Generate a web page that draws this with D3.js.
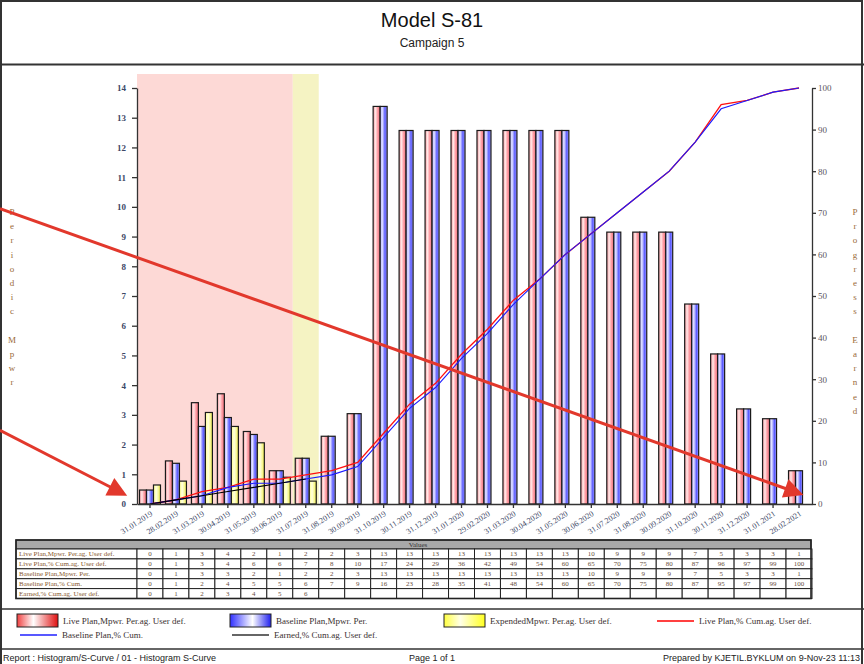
<!DOCTYPE html>
<html>
<head>
<meta charset="utf-8">
<script src="https://cdn.jsdelivr.net/npm/d3@7"></script>
<style>
  body { margin: 0; background: #fff; }
  svg { display: block; }
</style>
</head>
<body>
<div id="chart"></div>
<script>
const months = ["31.01.2019", "28.02.2019", "31.03.2019", "30.04.2019", "31.05.2019", "30.06.2019",
  "31.07.2019", "31.08.2019", "30.09.2019", "31.10.2019", "30.11.2019", "31.12.2019",
  "31.01.2020", "29.02.2020", "31.03.2020", "30.04.2020", "31.05.2020", "30.06.2020",
  "31.07.2020", "31.08.2020", "30.09.2020", "31.10.2020", "30.11.2020", "31.12.2020",
  "31.01.2021", "28.02.2021"];
const livePlanPer = [0.47, 1.45, 3.41, 3.71, 2.44, 1.12, 1.54, 2.28, 3.04, 13.38, 12.57, 12.57, 12.57,
  12.57, 12.57, 12.57, 12.57, 9.65, 9.15, 9.15, 9.15, 6.73, 5.05, 3.2, 2.87, 1.12];
const baselinePer = [0.47, 1.37, 2.61, 2.91, 2.34, 1.12, 1.54, 2.28, 3.04, 13.38, 12.57, 12.57, 12.57,
  12.57, 12.57, 12.57, 12.57, 9.65, 9.15, 9.15, 9.15, 6.73, 5.05, 3.2, 2.87, 1.12];
const expendedPer = [0.64, 0.77, 3.08, 2.61, 2.06, 0.9, 0.77];
const livePlanCum = [0, 1, 3, 4, 6, 6, 7, 8, 10, 17, 24, 29, 36, 42, 49, 54, 60, 65, 70, 75, 80, 87, 96, 97, 99, 100];
const baselineCum = [0, 1, 2, 4, 5, 5, 6, 7, 9, 16, 23, 28, 35, 41, 48, 54, 60, 65, 70, 75, 80, 87, 95, 97, 99, 100];
const earnedCum = [0, 1, 2, 3, 4, 5, 6];
const leftTicks = d3.range(0, 15, 1);
const rightTicks = d3.range(0, 101, 10);
// shaded periods (month index ranges)
const pastPeriod = [0, 5];
const currentPeriod = [6, 6];
// red call-out arrows: [left-axis value at page edge] -> [month index, x offset, left-axis value]
const callouts = [
  { fromValue: 9.94, toIndex: 25, toOffset: -1, toValue: 0.37 },
  { fromValue: 2.48, toIndex: 0, toOffset: -28, toValue: 0.37 }
];

const W = 864, H = 664;
const plot = { left: 137, right: 812, top: 88, bottom: 504 };

const svg = d3.select('#chart').append('svg')
  .attr('width', W).attr('height', H)
  .style('font-family', '"Liberation Serif", "DejaVu Serif", serif');

// gradients for bars and legend swatches
const defs = svg.append('defs');
function addGradient(id, stops) {
  const g = defs.append('linearGradient').attr('id', id)
    .attr('x1', '0%').attr('x2', '100%').attr('y1', '0%').attr('y2', '0%');
  stops.forEach(s => g.append('stop').attr('offset', s[0]).attr('stop-color', s[1]));
}
addGradient('gLive', [['0%', '#f59aa0'], ['35%', '#ffe6e6'], ['65%', '#ff9da4'], ['100%', '#e8707a']]);
addGradient('gBase', [['0%', '#a9a9ff'], ['30%', '#e4e4ff'], ['70%', '#5a5aff'], ['100%', '#a8a8ff']]);
addGradient('gExp', [['0%', '#ffff88'], ['40%', '#ffffe0'], ['100%', '#f2f050']]);
addGradient('gLiveLeg', [['0%', '#f04040'], ['40%', '#ffffff'], ['100%', '#e01010']]);
addGradient('gBaseLeg', [['0%', '#3030ff'], ['55%', '#ffffff'], ['100%', '#2020ee']]);
addGradient('gExpLeg', [['0%', '#ffff40'], ['40%', '#ffffe8'], ['100%', '#ffff20']]);

defs.append('marker').attr('id', 'arrowHead')
  .attr('viewBox', '0 0 10 10').attr('refX', 7).attr('refY', 5)
  .attr('markerWidth', 7).attr('markerHeight', 6.5).attr('orient', 'auto')
  .append('path').attr('d', 'M0,0 L10,5 L0,10 z').attr('fill', '#e2382c');

// page frame
const frame = svg.append('g').attr('stroke', '#333').attr('fill', 'none');
frame.append('rect').attr('x', 1).attr('y', 1).attr('width', 861).attr('height', 670).attr('stroke-width', 2);
frame.append('line').attr('x1', 0).attr('x2', W).attr('y1', 64.5).attr('y2', 64.5).attr('stroke-width', 2);
frame.append('line').attr('x1', 0).attr('x2', W).attr('y1', 609).attr('y2', 609).attr('stroke-width', 1.5);
frame.append('line').attr('x1', 0).attr('x2', W).attr('y1', 649).attr('y2', 649).attr('stroke-width', 1.5);

// titles
svg.append('text').attr('x', 432).attr('y', 27).attr('text-anchor', 'middle')
  .style('font-family', '"Liberation Sans", Arial, sans-serif').style('font-size', '20px')
  .attr('fill', '#111').text('Model S-81');
svg.append('text').attr('x', 432).attr('y', 47).attr('text-anchor', 'middle')
  .style('font-family', '"Liberation Sans", Arial, sans-serif').style('font-size', '12px')
  .attr('fill', '#222').text('Campaign 5');

// scales
const x = d3.scaleBand().domain(months).range([plot.left, plot.right]).paddingInner(0).paddingOuter(0);
const sub = d3.scaleBand().domain(['live', 'base', 'exp']).range([-10.5, 10.5]);
const yL = d3.scaleLinear().domain([0, 14]).range([plot.bottom, plot.top]);
const yR = d3.scaleLinear().domain([0, 100]).range([plot.bottom, plot.top]);
const cx = i => x(months[i]) + x.bandwidth() / 2;

// period shading
svg.append('rect')
  .attr('x', x(months[pastPeriod[0]])).attr('y', 74)
  .attr('width', x(months[pastPeriod[1]]) + x.bandwidth() - x(months[pastPeriod[0]]))
  .attr('height', plot.bottom - 74).attr('fill', '#fdd9d6');
svg.append('rect')
  .attr('x', x(months[currentPeriod[0]])).attr('y', 74)
  .attr('width', x(months[currentPeriod[1]]) + x.bandwidth() - x(months[currentPeriod[0]]))
  .attr('height', plot.bottom - 74).attr('fill', '#f5f3c3');

// bars
const barSeries = [
  { key: 'live', values: livePlanPer, fill: 'url(#gLive)' },
  { key: 'base', values: baselinePer, fill: 'url(#gBase)' },
  { key: 'exp', values: expendedPer, fill: 'url(#gExp)' }
];
barSeries.forEach(s => {
  svg.append('g').selectAll('rect')
    .data(s.values)
    .enter().append('rect')
    .attr('x', (d, i) => cx(i) + sub(s.key))
    .attr('y', d => yL(d))
    .attr('width', sub.bandwidth())
    .attr('height', d => yL(0) - yL(d))
    .attr('fill', s.fill)
    .attr('stroke', '#1a1a1a')
    .attr('stroke-width', 1.2);
});

// cumulative lines
const line = d3.line().x((d, i) => cx(i)).y(d => yR(d));
[
  { values: livePlanCum, color: '#ff1010', w: 1.3 },
  { values: baselineCum, color: '#1a1aff', w: 1.1 },
  { values: earnedCum, color: '#000', w: 1.1 }
].forEach(s => {
  svg.append('path').datum(s.values).attr('d', line)
    .attr('fill', 'none').attr('stroke', s.color).attr('stroke-width', s.w);
});

// axes
const axisColor = '#333';
const gLeft = svg.append('g').attr('transform', `translate(${plot.left},0)`)
  .call(d3.axisLeft(yL).tickValues(leftTicks).tickSize(5).tickSizeOuter(0).tickPadding(6));
gLeft.selectAll('text').style('font-size', '9px').style('font-weight', 'bold').attr('fill', '#3d4866');

const gRight = svg.append('g').attr('transform', `translate(${plot.right},0)`)
  .call(d3.axisRight(yR).tickValues(rightTicks).tickSize(4).tickSizeOuter(0).tickPadding(2));
gRight.selectAll('text').style('font-size', '9px').attr('fill', '#5a5560');

const gBottom = svg.append('g').attr('transform', `translate(0,${plot.bottom})`)
  .call(d3.axisBottom(x).tickSize(4).tickSizeOuter(0));
gBottom.selectAll('text')
  .style('font-size', '8px').attr('fill', '#3d4866')
  .attr('text-anchor', 'end')
  .attr('dy', null).attr('y', 0)
  .attr('transform', 'translate(3,11) rotate(-33)');

[gLeft, gRight, gBottom].forEach(g => {
  g.selectAll('path, line').attr('stroke', axisColor).attr('stroke-width', 1.3);
  g.selectAll('text').style('font-family', '"Liberation Serif", serif');
});

// stacked vertical axis titles
function stackedTitle(txt, xPos) {
  svg.append('g').selectAll('text')
    .data(txt.split(''))
    .enter().append('text')
    .attr('x', xPos).attr('y', (d, i) => 215 + i * 14.2)
    .attr('text-anchor', 'middle')
    .style('font-size', '9px').attr('fill', '#9a6a3a')
    .text(d => d);
}
stackedTitle('Periodic Mpwr', 12);
stackedTitle('Progress Earned', 855);

// data table
const table = { left: 16, top: 540, headH: 9, rowH: 9.9 };
const tableRight = plot.right - 1;
const rows = [
  { label: 'Live Plan,Mpwr. Per.ag. User def.', values: livePlanPer.map(Math.round) },
  { label: 'Live Plan,% Cum.ag. User def.', values: livePlanCum },
  { label: 'Baseline Plan,Mpwr. Per.', values: baselinePer.map(Math.round) },
  { label: 'Baseline Plan,% Cum.', values: baselineCum },
  { label: 'Earned,% Cum.ag. User def.', values: earnedCum }
];
const gt = svg.append('g');
gt.append('rect').attr('x', table.left).attr('y', table.top)
  .attr('width', tableRight - table.left).attr('height', table.headH)
  .attr('fill', '#a9a9a9').attr('stroke', '#222').attr('stroke-width', 1);
gt.append('text').attr('x', 418).attr('y', table.top + 7)
  .attr('text-anchor', 'middle').style('font-size', '7px').attr('fill', '#333').text('Values');
rows.forEach((r, ri) => {
  const y0 = table.top + table.headH + ri * table.rowH;
  gt.append('rect').attr('x', table.left).attr('y', y0)
    .attr('width', plot.left - table.left).attr('height', table.rowH)
    .attr('fill', '#fff').attr('stroke', '#222').attr('stroke-width', 1);
  gt.append('text').attr('x', table.left + 3).attr('y', y0 + 7.2)
    .style('font-size', '7px').attr('fill', '#8a5a30').text(r.label);
  months.forEach((m, i) => {
    gt.append('rect').attr('x', x(m)).attr('y', y0)
      .attr('width', x.bandwidth()).attr('height', table.rowH)
      .attr('fill', '#fff').attr('stroke', '#222').attr('stroke-width', 1);
    if (r.values[i] !== undefined) {
      gt.append('text').attr('x', cx(i)).attr('y', y0 + 7.2)
        .attr('text-anchor', 'middle').style('font-size', '7px').attr('fill', '#6a5040')
        .text(r.values[i]);
    }
  });
});
gt.append('rect').attr('x', table.left).attr('y', table.top)
  .attr('width', tableRight - table.left).attr('height', table.headH + rows.length * table.rowH)
  .attr('fill', 'none').attr('stroke', '#222').attr('stroke-width', 1.6);

// legend
const legendItems = [
  { type: 'swatch', fill: 'url(#gLiveLeg)', label: 'Live Plan,Mpwr. Per.ag. User def.', x: 17, y: 621 },
  { type: 'swatch', fill: 'url(#gBaseLeg)', label: 'Baseline Plan,Mpwr. Per.', x: 230, y: 621 },
  { type: 'swatch', fill: 'url(#gExpLeg)', label: 'ExpendedMpwr. Per.ag. User def.', x: 444, y: 621 },
  { type: 'line', color: '#ff0000', label: 'Live Plan,% Cum.ag. User def.', x: 657, y: 621 },
  { type: 'line', color: '#2020ff', label: 'Baseline Plan,% Cum.', x: 20, y: 635 },
  { type: 'line', color: '#333', label: 'Earned,% Cum.ag. User def.', x: 232, y: 635 }
];
const gl = svg.append('g');
legendItems.forEach(it => {
  if (it.type === 'swatch') {
    gl.append('rect').attr('x', it.x).attr('y', it.y - 7).attr('width', 41).attr('height', 13)
      .attr('fill', it.fill).attr('stroke', '#222').attr('stroke-width', 1);
    gl.append('text').attr('x', it.x + 46).attr('y', it.y + 3)
      .style('font-size', '9px').attr('fill', '#3a3030').text(it.label);
  } else {
    gl.append('line').attr('x1', it.x).attr('x2', it.x + 37).attr('y1', it.y).attr('y2', it.y)
      .attr('stroke', it.color).attr('stroke-width', 1.5);
    gl.append('text').attr('x', it.x + 42).attr('y', it.y + 3)
      .style('font-size', '9px').attr('fill', '#3a3030').text(it.label);
  }
});

// footer
const foot = svg.append('g').style('font-family', '"Liberation Sans", Arial, sans-serif')
  .style('font-size', '9px').attr('fill', '#222');
foot.append('text').attr('x', 3).attr('y', 661).text('Report : Histogram/S-Curve / 01 - Histogram S-Curve');
foot.append('text').attr('x', 432).attr('y', 661).attr('text-anchor', 'middle').text('Page 1 of 1');
foot.append('text').attr('x', 860).attr('y', 661).attr('text-anchor', 'end')
  .text('Prepared by KJETIL.BYKLUM on 9-Nov-23 11:13');

// red call-out arrows
svg.append('g').selectAll('line')
  .data(callouts)
  .enter().append('line')
  .attr('x1', 0).attr('y1', d => yL(d.fromValue))
  .attr('x2', d => cx(d.toIndex) + d.toOffset)
  .attr('y2', d => yL(d.toValue))
  .attr('stroke', '#e2382c').attr('stroke-width', 3)
  .attr('marker-end', 'url(#arrowHead)');
</script>
</body>
</html>
